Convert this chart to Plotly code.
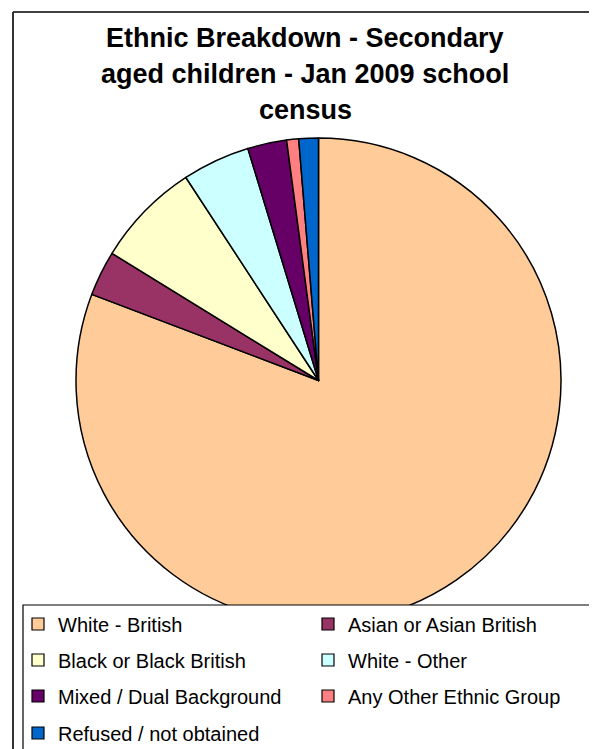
import plotly.graph_objects as go

# page body has an 8px margin; size the figure so it fits the 597x749 window
OFF = 8
W, H = 597 - OFF, 749 - OFF

labels = ["White - British", "Asian or Asian British", "Black or Black British",
          "White - Other", "Mixed / Dual Background", "Any Other Ethnic Group",
          "Refused / not obtained"]
values = [80.7, 3.0, 7.0, 4.5, 2.6, 0.8, 1.3]
colors = ["#FFCC99", "#993366", "#FFFFCC", "#CCFFFF", "#660066", "#FF8080", "#0066CC"]

title_lines = ["Ethnic Breakdown - Secondary", "aged children - Jan 2009 school", "census"]

def px_x(p):
    # p given in window pixels
    return (p - OFF) / W

def px_y(p):
    return 1 - (p - OFF) / H

cx, cy, r = 318.5, 380.5, 242.5

fig = go.Figure()
fig.add_trace(go.Pie(
    labels=labels, values=values, sort=False, direction="clockwise", rotation=0,
    marker=dict(colors=colors, line=dict(color="black", width=1.5)),
    textinfo="none", hoverinfo="label+percent", showlegend=False,
    domain=dict(x=[px_x(cx - r), px_x(cx + r)], y=[px_y(cy + r), px_y(cy - r)]),
))

# legend rows (two entries per row), drawn from the same data
rows = [[0, 1], [2, 3], [4, 5], [6]]
row_y = [624, 660, 696, 733]
legend_names = ["legend", "legend2", "legend3", "legend4"]
for ri, idxs in enumerate(rows):
    fig.add_trace(go.Pie(
        labels=[labels[i] for i in idxs], values=[values[i] for i in idxs],
        sort=False, textinfo="none", hoverinfo="skip",
        marker=dict(colors=[colors[i] for i in idxs], line=dict(color="black", width=1.2)),
        domain=dict(x=[0.5, 0.5005], y=[0.05, 0.0505]),
        legend=legend_names[ri], showlegend=True,
    ))

legend_common = dict(
    orientation="h", entrywidth=245, entrywidthmode="pixels",
    xanchor="left", yanchor="middle", bgcolor="rgba(0,0,0,0)", borderwidth=0,
    font=dict(family="Liberation Sans, Arial, sans-serif", size=20, color="black"),
    itemwidth=30, traceorder="normal",
)
layout_legends = {}
for ri, name in enumerate(legend_names):
    layout_legends[name] = dict(legend_common, x=px_x(18), y=px_y(row_y[ri]))

annotations = []
title_y = [38, 74, 110]
for t, yy in zip(title_lines, title_y):
    annotations.append(dict(
        text=t, xref="paper", yref="paper", x=px_x(305), y=px_y(yy),
        xanchor="center", yanchor="middle", showarrow=False,
        font=dict(family="Liberation Sans, Arial, sans-serif", size=27, color="black", weight="bold"),
    ))

shapes = [
    # outer chart frame
    dict(type="line", xref="paper", yref="paper", x0=px_x(13), x1=px_x(610), y0=px_y(12), y1=px_y(12),
         line=dict(color="black", width=1.5)),
    dict(type="line", xref="paper", yref="paper", x0=px_x(13), x1=px_x(13), y0=px_y(12), y1=px_y(760),
         line=dict(color="#333333", width=2)),
    # legend box
    dict(type="rect", xref="paper", yref="paper", x0=px_x(23), x1=px_x(610), y0=px_y(760), y1=px_y(605),
         fillcolor="white", line=dict(color="black", width=1.2), layer="above"),
]

fig.update_layout(
    width=W, height=H, margin=dict(l=0, r=0, t=0, b=0, autoexpand=False),
    paper_bgcolor="white", plot_bgcolor="white",
    annotations=annotations, shapes=shapes,
    **layout_legends,
)

fig.write_html("out.html")
